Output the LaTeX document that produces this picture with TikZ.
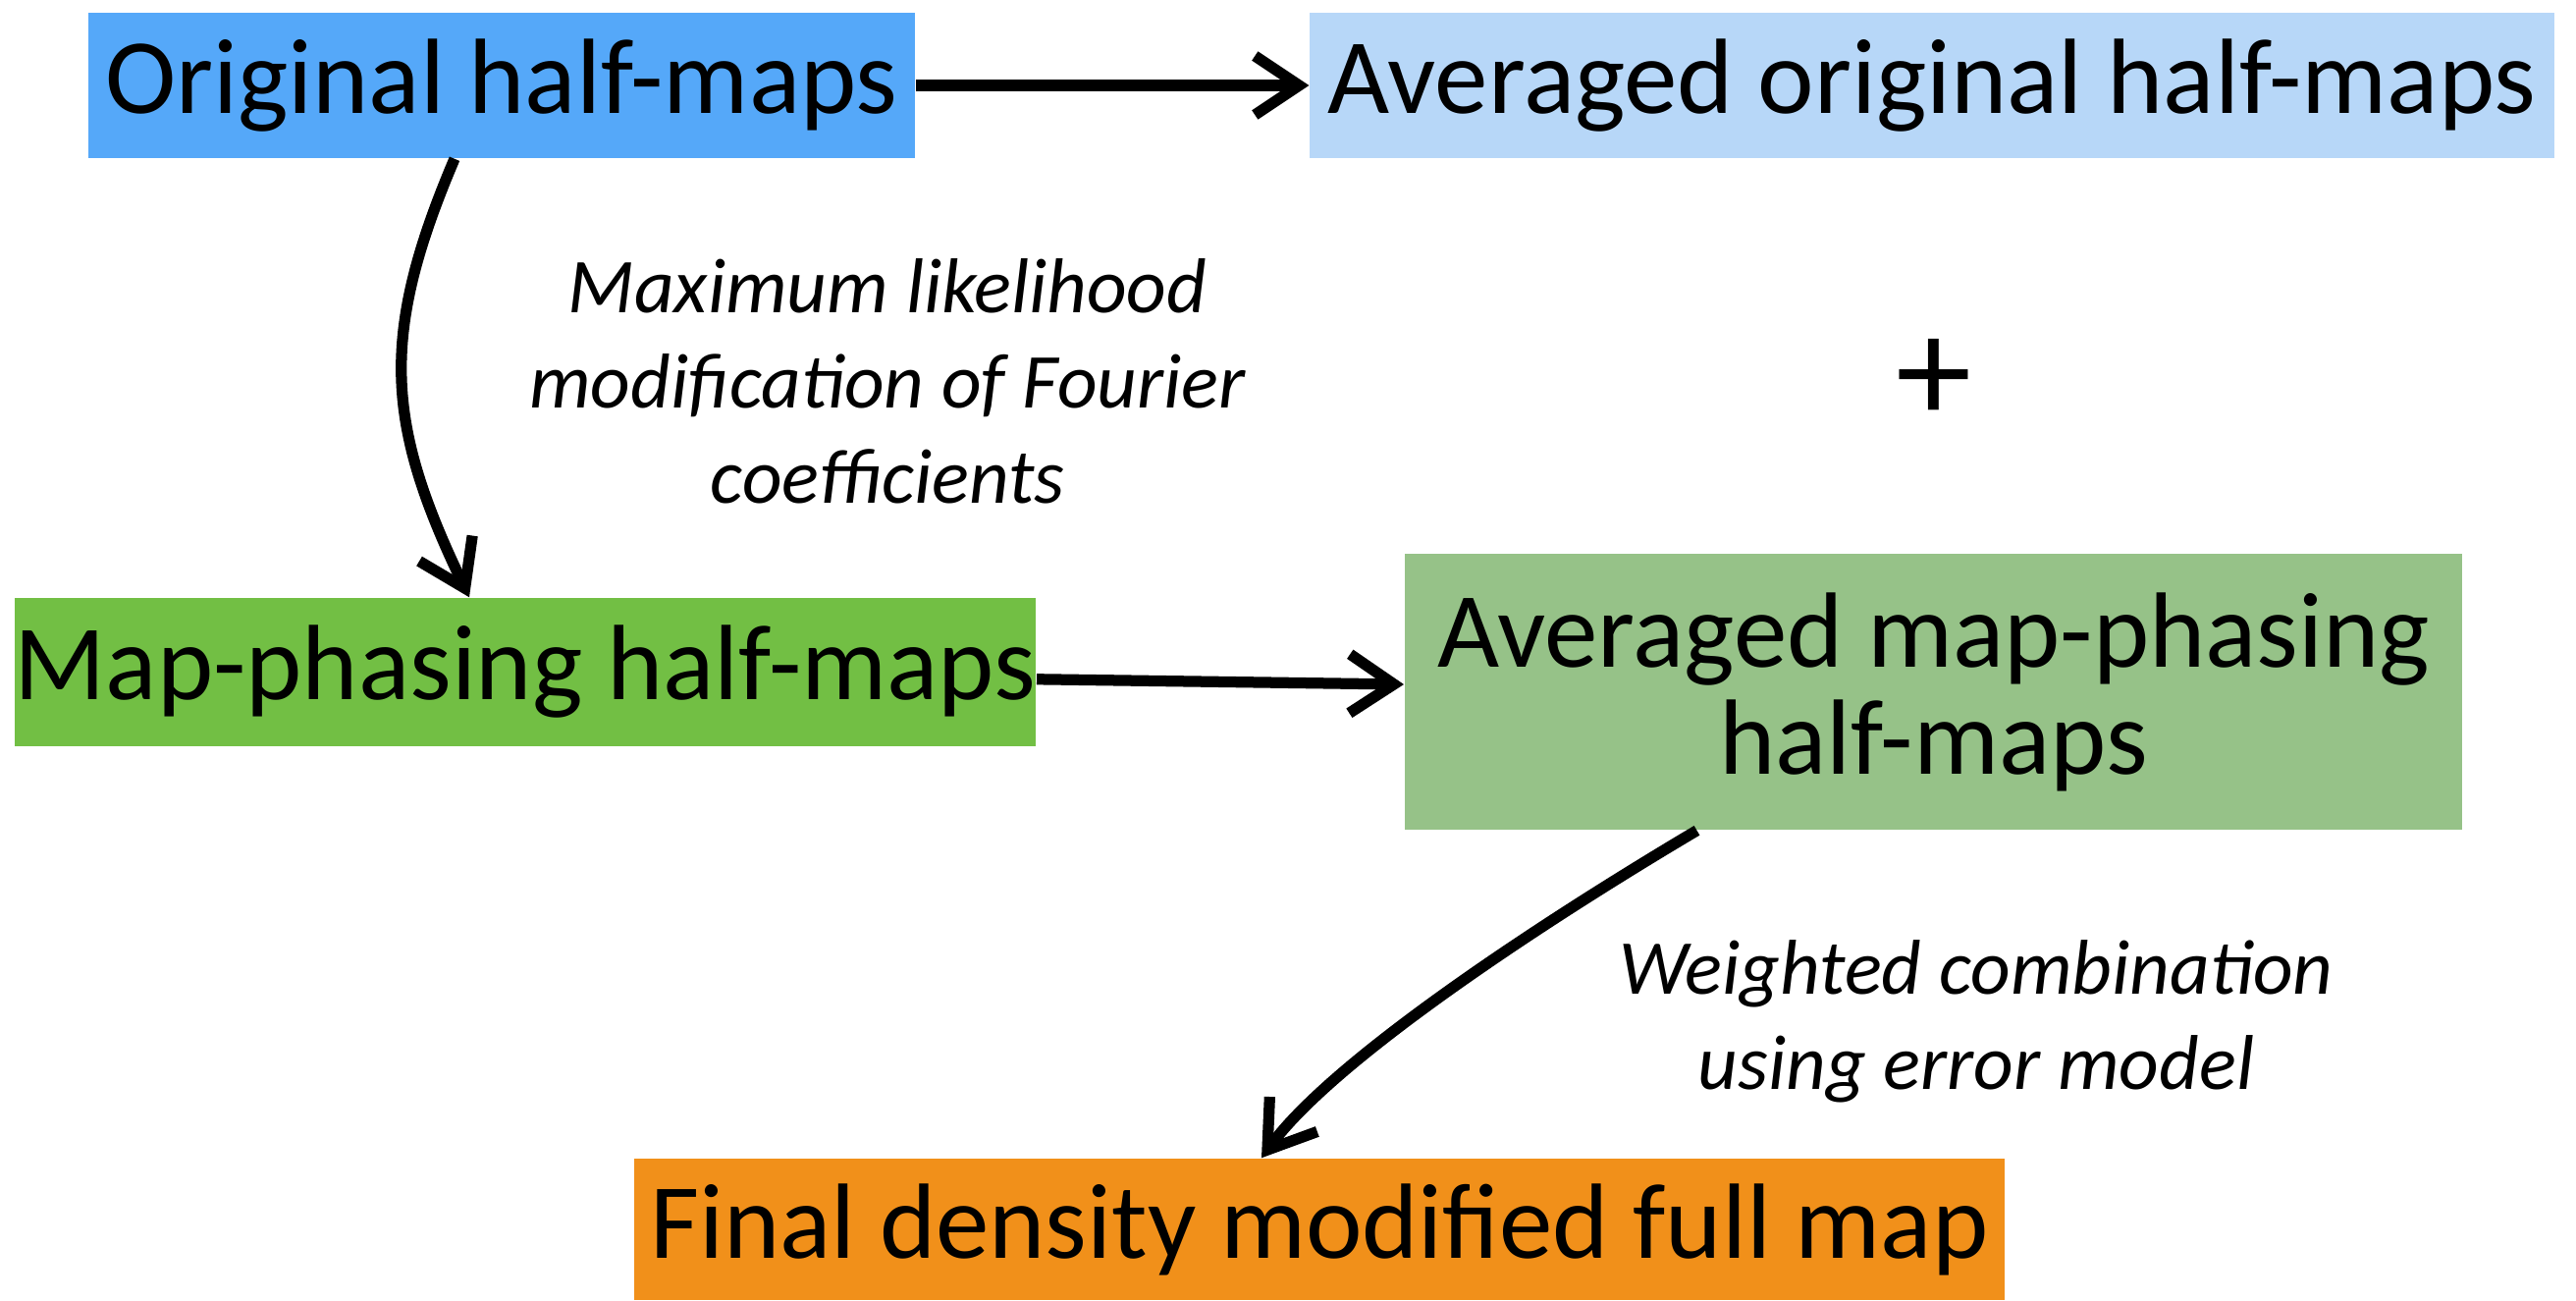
\documentclass[tikz,border=0pt]{standalone}
\usepackage{fontspec}
\setmainfont{Carlito}
\usepackage{tikz}
\usetikzlibrary{arrows.meta,positioning,calc}
\tikzstyle{every node}=[inner sep=0pt, text=black]

\definecolor{origblue}{RGB}{85,168,249}
\definecolor{avgblue}{RGB}{183,215,248}
\definecolor{phasegreen}{RGB}{114,191,68}
\definecolor{avggreen}{RGB}{150,194,136}
\definecolor{finalorange}{RGB}{241,144,26}

\begin{document}
\begin{tikzpicture}[
        x=0.01cm, y=0.01cm,
        mapbox/.style={
                font=\fontsize{31}{31}\selectfont,
                text centered,
                align=center
            },
        note/.style={
                font=\fontsize{22.5}{27.6}\selectfont\itshape,
                align=center
            },
        arr/.style={
                line width=3.2pt,
                -{Straight Barb[length=4.5mm,width=6mm]}
            },
    ]
    \useasboundingbox (0,0) rectangle (2624,-1324);
    % Boxes
    \node[mapbox, fill=origblue, minimum width=8.42cm, minimum height=1.48cm] (orig) at (511,-87) {Original half-maps};
    \node[mapbox, fill=avgblue, minimum width=12.67cm, minimum height=1.48cm] (avgorig) at (1968,-87) {Averaged original half-maps};
    \node[mapbox, fill=phasegreen, minimum width=10.37cm, minimum height=1.51cm] (phase) at (535,-684.5) {Map-phasing half-maps};
    \node[mapbox, fill=avggreen, minimum width=10.77cm, minimum height=2.81cm] (avgphase) at (1969.5,-704.5) {Averaged map-phasing\\half-maps};
    \node[mapbox, fill=finalorange, minimum width=13.96cm, minimum height=1.44cm] (final) at (1344,-1252) {Final density modified full map};
    \node[mapbox, font=\fontsize{44}{44}\selectfont] (plus) at (1970,-388) {+};
    % Labels
    \node[note] (mlnote) at (904,-388) {Maximum likelihood\\modification of Fourier\\coefficients};
    \node[note] (wtnote) at (2013,-1040) {Weighted combination\\using error model};
    % Arrows
    \draw[arr] (orig) -- (avgorig);
    \draw[arr] ($(orig.south)+(-48,0)$) .. controls +(-77,-181) and +(-85,177) .. ($(phase.north)+(-57,0)$);
    \draw[arr] (phase) -- (avgphase);
    \draw[arr] ($(avgphase.south)+(-241,0)$) .. controls +(-172,-102) and +(71,97) .. ($(final.north)+(-59,0)$);
\end{tikzpicture}
\end{document}
